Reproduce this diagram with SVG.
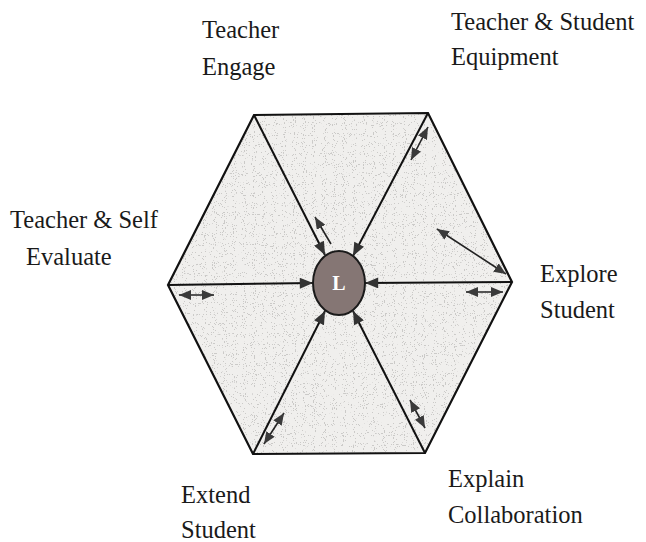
<svg xmlns="http://www.w3.org/2000/svg" width="646" height="542" viewBox="0 0 646 542">
<style>
.ln{stroke:#111;stroke-width:2;fill:none}
.sm{stroke:#222;stroke-width:1.6;fill:none}
.lbl{font-family:'Liberation Serif','Times New Roman','DejaVu Serif',serif;font-size:24.5px;fill:#1a1a1a}
</style>
<defs>
<filter id="speck" x="0" y="0" width="100%" height="100%">
<feTurbulence type="fractalNoise" baseFrequency="0.9" numOctaves="1" seed="3" result="n"/>
<feColorMatrix in="n" type="matrix" values="0 0 0 0 0.6  0 0 0 0 0.59  0 0 0 0 0.58  -40 0 0 0 14.5" result="d"/>
<feComposite in="d" in2="SourceGraphic" operator="in" result="dd"/>
<feMerge><feMergeNode in="SourceGraphic"/><feMergeNode in="dd"/></feMerge>
</filter>
<marker id="ah" viewBox="0 0 12 10" refX="12" refY="5" markerWidth="14" markerHeight="11" markerUnits="userSpaceOnUse" orient="auto-start-reverse">
<path d="M0,0 L12,5 L0,10 Z" fill="#333"/>
</marker>
<marker id="as" viewBox="0 0 12 10" refX="12" refY="5" markerWidth="12" markerHeight="10" markerUnits="userSpaceOnUse" orient="auto-start-reverse">
<path d="M0,0 L12,5 L0,10 Z" fill="#3a3a3a"/>
</marker>
</defs>
<rect width="646" height="542" fill="#ffffff"/>
<g id="hexagon">
<polygon points="254,115 428,113 512,282 425,453 253,454 168,285" fill="#f0efed" filter="url(#speck)"/>
<polygon points="254,115 428,113 512,282 425,453 253,454 168,285" fill="none" stroke="#111" stroke-width="2.2"/>
</g>
<g id="connectors">
<line class="ln" x1="254" y1="115" x2="325" y2="255" marker-end="url(#ah)"/>
<line class="ln" x1="428" y1="113" x2="353" y2="256" marker-end="url(#ah)"/>
<line class="ln" x1="168" y1="285" x2="313" y2="283" marker-end="url(#ah)"/>
<line class="ln" x1="512" y1="282" x2="365" y2="283" marker-end="url(#ah)"/>
<line class="ln" x1="253" y1="454" x2="325" y2="311" marker-end="url(#ah)"/>
<line class="ln" x1="425" y1="453" x2="353" y2="311" marker-end="url(#ah)"/>
<line class="sm" x1="331" y1="244" x2="315" y2="217" marker-end="url(#as)"/>
<line class="sm" x1="428" y1="127" x2="411" y2="160" marker-start="url(#as)" marker-end="url(#as)"/>
<line class="sm" x1="437" y1="229" x2="506" y2="274" marker-start="url(#as)" marker-end="url(#as)"/>
<line class="sm" x1="179" y1="295" x2="214" y2="295" marker-start="url(#as)" marker-end="url(#as)"/>
<line class="sm" x1="466" y1="292" x2="503" y2="292" marker-start="url(#as)" marker-end="url(#as)"/>
<line class="sm" x1="284" y1="413" x2="264" y2="444" marker-start="url(#as)" marker-end="url(#as)"/>
<line class="sm" x1="410" y1="400" x2="425" y2="428" marker-start="url(#as)" marker-end="url(#as)"/>
</g>
<g id="node-L">
<ellipse cx="339" cy="283" rx="26" ry="32" fill="#857674" stroke="#1a1a1a" stroke-width="2"/>
<text x="339" y="290" text-anchor="middle" class="lbl" font-weight="bold" style="font-size:20px;fill:#ffffff">L</text>
</g>
<g id="label-engage"><text class="lbl" x="202" y="38">Teacher</text><text class="lbl" x="202" y="75">Engage</text></g>
<g id="label-equipment"><text class="lbl" x="451" y="30">Teacher &amp; Student</text><text class="lbl" x="451" y="65">Equipment</text></g>
<g id="label-evaluate"><text class="lbl" x="10" y="228">Teacher &amp; Self</text><text class="lbl" x="26" y="265">Evaluate</text></g>
<g id="label-explore"><text class="lbl" x="540" y="282">Explore</text><text class="lbl" x="540" y="318">Student</text></g>
<g id="label-extend"><text class="lbl" x="181" y="503">Extend</text><text class="lbl" x="181" y="538">Student</text></g>
<g id="label-explain"><text class="lbl" x="448" y="487">Explain</text><text class="lbl" x="448" y="523">Collaboration</text></g>
</svg>
